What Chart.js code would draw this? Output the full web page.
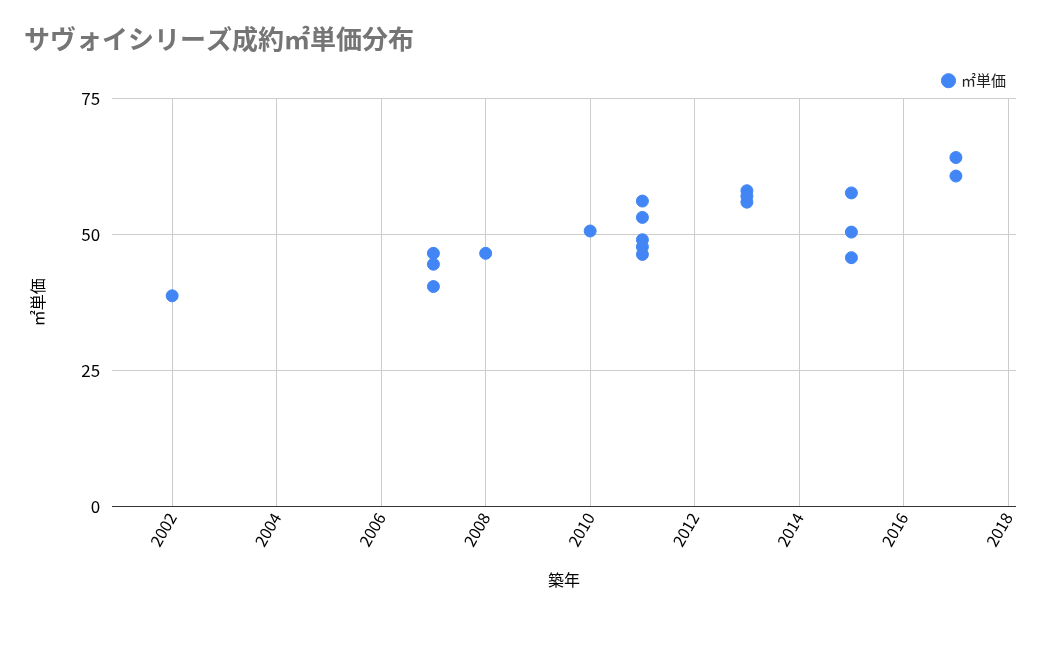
<!DOCTYPE html>
<html>
<head>
<meta charset="utf-8">
<script src="https://cdn.jsdelivr.net/npm/chart.js@4"></script>
<style>
body { margin: 0; background: #fff; }
#wrap { width: 1050px; height: 649px; position: relative; }
</style>
</head>
<body>
<div id="wrap"><canvas id="chart" width="1050" height="649"></canvas></div>
<script>
var years = [2002, 2007, 2007, 2007, 2008, 2010, 2011, 2011, 2011, 2011, 2011, 2013, 2013, 2013, 2015, 2015, 2015, 2017, 2017];
var unitPrices = [38.7, 46.5, 44.5, 40.4, 46.5, 50.6, 56.1, 53.1, 49.0, 47.7, 46.3, 58.0, 57.0, 55.9, 57.6, 50.4, 45.7, 64.1, 60.7];
var xTicks = [2002, 2004, 2006, 2008, 2010, 2012, 2014, 2016, 2018];
var yTicks = [0, 25, 50, 75];

var font = "'Noto Sans CJK JP', 'Noto Sans', sans-serif";
Chart.defaults.font.family = font;

var points = years.map(function (y, i) { return { x: y, y: unitPrices[i] }; });

new Chart(document.getElementById('chart').getContext('2d'), {
    type: 'scatter',
    data: {
        datasets: [{
            label: '㎡単価',
            data: points,
            backgroundColor: '#4285f4',
            borderColor: '#4285f4',
            pointRadius: 6,
            pointHoverRadius: 6
        }]
    },
    options: {
        responsive: false,
        animation: false,
        devicePixelRatio: 1,
        layout: { padding: { left: 24, right: 34, top: 10, bottom: 55 } },
        plugins: {
            title: {
                display: true,
                text: 'サヴォイシリーズ成約㎡単価分布',
                align: 'start',
                color: '#757575',
                font: { size: 26, weight: 'bold' },
                padding: { top: 14, bottom: 8 }
            },
            legend: {
                align: 'end',
                labels: {
                    usePointStyle: true,
                    pointStyle: 'circle',
                    boxWidth: 10,
                    boxHeight: 10,
                    color: '#222',
                    font: { size: 15 }
                }
            },
            tooltip: { enabled: false }
        },
        scales: {
            x: {
                type: 'linear',
                min: 2000.85,
                max: 2018.15,
                afterBuildTicks: function (axis) {
                    axis.ticks = xTicks.map(function (v) { return { value: v }; });
                },
                ticks: {
                    color: '#000',
                    font: { size: 16 },
                    autoSkip: false,
                    maxRotation: 60,
                    minRotation: 60,
                    callback: function (v) { return String(v); }
                },
                grid: { color: '#cccccc', drawTicks: false },
                border: { display: false },
                title: { display: true, text: '築年', color: '#000', font: { size: 16 }, padding: { top: 18 } }
            },
            y: {
                min: 0,
                max: 75,
                afterBuildTicks: function (axis) {
                    axis.ticks = yTicks.map(function (v) { return { value: v }; });
                },
                ticks: { color: '#000', font: { size: 17 }, padding: 12, autoSkip: false },
                grid: {
                    drawTicks: false,
                    color: function (ctx) { return ctx.tick && ctx.tick.value === 0 ? '#333' : '#cccccc'; }
                },
                border: { display: false },
                title: { display: true, text: '㎡単価', color: '#000', font: { size: 16 }, padding: { bottom: 22 } }
            }
        }
    }
});
</script>
</body>
</html>
